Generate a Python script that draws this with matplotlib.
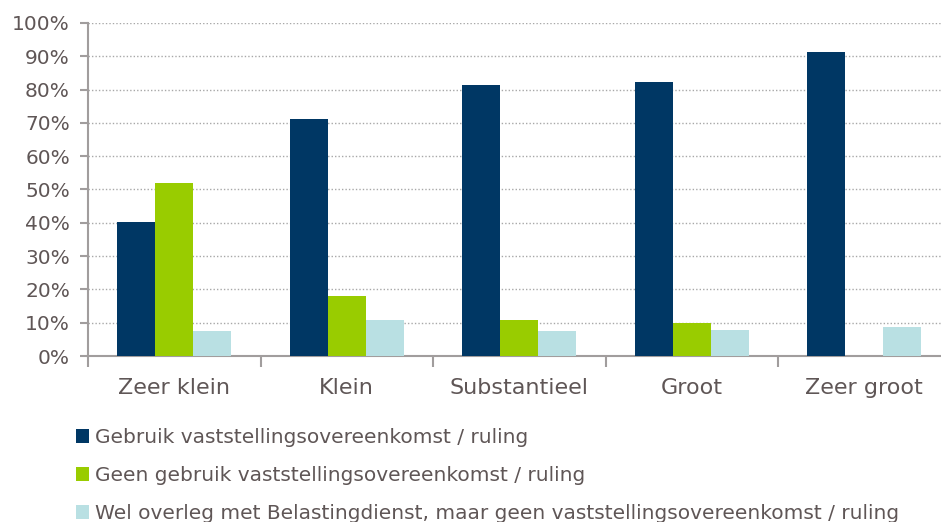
import matplotlib
matplotlib.use("Agg")
import matplotlib.pyplot as plt
import numpy as np
from matplotlib.patches import Patch
from matplotlib.ticker import FuncFormatter

categories = ["Zeer klein", "Klein", "Substantieel", "Groot", "Zeer groot"]
series_names = [
    "Gebruik vaststellingsovereenkomst / ruling",
    "Geen gebruik vaststellingsovereenkomst / ruling",
    "Wel overleg met Belastingdienst, maar geen vaststellingsovereenkomst / ruling",
]
gebruik = [40.2, 71.1, 81.5, 82.4, 91.2]
geen_gebruik = [52.0, 18.1, 10.9, 10.0, 0.0]
wel_overleg = [7.6, 10.8, 7.6, 7.8, 8.6]
colors = ["#003764", "#99CC00", "#B9E0E3"]

TXT = "#5F5656"
AX = "#A19D9D"

fig = plt.figure(figsize=(9.41, 5.22), dpi=100)
ax = fig.add_axes([88 / 941, (522 - 356) / 522, 5 * 172.5 / 941, (356 - 23) / 522])

x = np.arange(len(categories))
w = 0.22
for i, (vals, c) in enumerate(zip([gebruik, geen_gebruik, wel_overleg], colors)):
    ax.bar(x + (i - 1) * w, np.array(vals) / 100, width=w, color=c, zorder=3)

ax.set_xlim(-0.5, len(categories) - 0.5)
ax.set_ylim(0, 1.0)
ax.set_yticks(np.arange(0, 1.01, 0.1))
ax.yaxis.set_major_formatter(FuncFormatter(lambda v, p: f"{v*100:.0f}%"))
ax.grid(axis="y", color="#A8A8A8", linestyle=(0, (1, 1.5)), linewidth=1.0, zorder=0)

ax.set_xticks(x)
ax.set_xticklabels(categories)
ax.set_xticks(np.arange(-0.5, len(categories), 1.0), minor=True)
ax.tick_params(axis="x", which="major", length=0, pad=16, labelsize=16, labelcolor=TXT)
ax.tick_params(axis="x", which="minor", length=8, width=1.5, color=AX, direction="out")
ax.tick_params(axis="y", length=6, width=1.5, color=AX, pad=7, labelsize=14.5, labelcolor=TXT)

for s in ["top", "right"]:
    ax.spines[s].set_visible(False)
for s in ["left", "bottom"]:
    ax.spines[s].set_color(AX)
    ax.spines[s].set_linewidth(1.5)

handles = [Patch(facecolor=c, edgecolor="none") for c in colors]
leg = fig.legend(handles, series_names, loc="upper left",
                 bbox_to_anchor=(76 / 941, 1 - 428 / 522),
                 frameon=False, fontsize=14.5, labelcolor=TXT,
                 handlelength=0.65, handleheight=0.65, handletextpad=0.3,
                 labelspacing=0.95, borderpad=0, borderaxespad=0)

fig.savefig("out.png", dpi=100)
